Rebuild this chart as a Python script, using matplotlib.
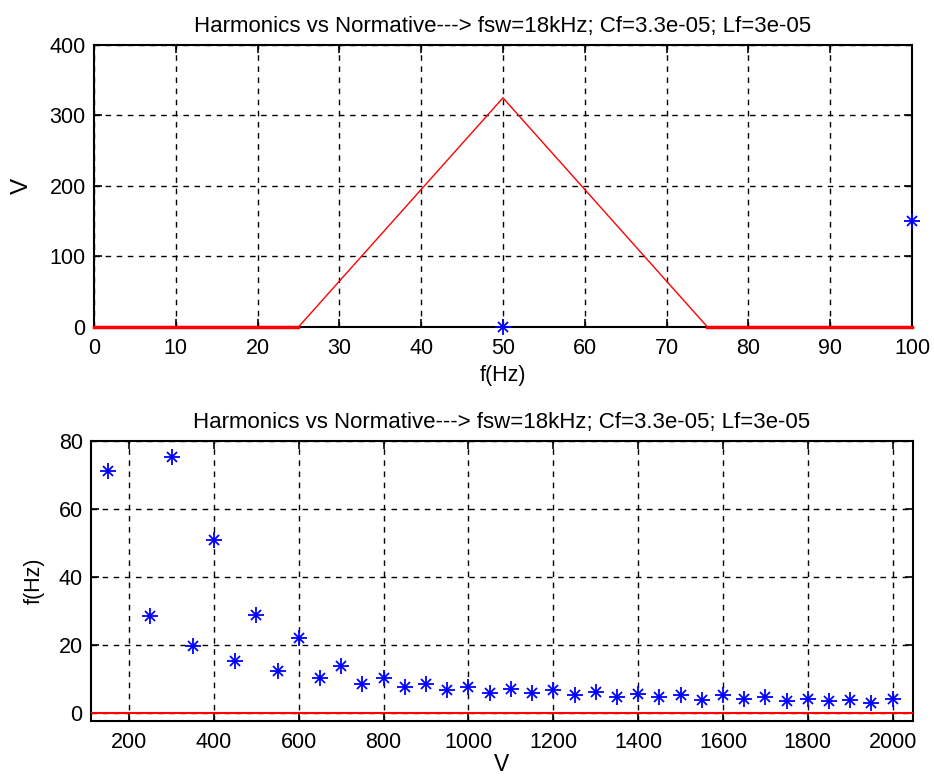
import matplotlib
matplotlib.use('Agg')
import matplotlib.pyplot as plt

plt.rcParams['font.family'] = ['Liberation Sans', 'DejaVu Sans']

title = 'Harmonics vs Normative---> fsw=18kHz; Cf=3.3e-05; Lf=3e-05'

# top: normative limit envelope and measured points
norm_f = [0, 25, 50, 75, 100]
norm_v = [0, 0, 325, 0, 0]
meas_f = [50, 100]
meas_v = [0, 150]

# bottom: harmonic amplitudes against order frequency
harm_v = [150, 250, 300, 350, 400, 450, 500, 550, 600, 650, 700, 750, 800,
          850, 900, 950, 1000, 1050, 1100, 1150, 1200, 1250, 1300, 1350,
          1400, 1450, 1500, 1550, 1600, 1650, 1700, 1750, 1800, 1850, 1900,
          1950, 2000]
harm_f = [71.2, 28.4, 75.3, 19.8, 50.9, 15.2, 28.9, 12.2, 21.9, 10.2, 13.7,
          8.6, 10.3, 7.6, 8.6, 6.6, 7.6, 5.9, 7.0, 5.7, 6.6, 5.1, 6.1, 4.6,
          5.6, 4.6, 5.2, 3.9, 5.1, 4.1, 4.6, 3.4, 4.1, 3.4, 3.9, 2.9, 4.1]
limit_v = [100, 2100]
limit_f = [0, 0]

FS = 15.5
TS = 16


def asterisk(ax, x, y):
    ax.plot(x, y, ls='none', marker='+', ms=11, mew=1.3, color='blue', zorder=4)
    ax.plot(x, y, ls='none', marker='x', ms=7, mew=1.3, color='blue', zorder=4)


def style(ax):
    ax.grid(True, color='black', linestyle=(0, (4, 4)), linewidth=1)
    ax.tick_params(direction='in', top=True, right=True, labelsize=FS,
                   length=6, width=1.2)
    ax.tick_params(axis='x', pad=8)
    ax.tick_params(axis='y', pad=6)
    for s in ax.spines.values():
        s.set_linewidth(1.5)


fig = plt.figure(figsize=(9.34, 7.78), dpi=100)

ax1 = fig.add_axes([0.1006, 0.5797, 0.8758, 0.3625])
ax1.plot(norm_f, norm_v, color='red', lw=1, zorder=3, clip_on=False)
ax1.plot([0, 25], [0, 0], color='red', lw=2.5, zorder=3, clip_on=False)
ax1.plot([75, 100], [0, 0], color='red', lw=2.5, zorder=3, clip_on=False)
asterisk(ax1, meas_f, meas_v)
for line in ax1.lines:
    line.set_clip_on(False)
ax1.set_xlim(0, 100)
ax1.set_ylim(0, 400)
ax1.set_xticks(range(0, 101, 10))
ax1.set_yticks(range(0, 401, 100))
ax1.set_title(title, fontsize=TS, pad=9)
ax1.set_xlabel('f(Hz)', fontsize=FS, labelpad=4)
ax1.set_ylabel('V', fontsize=FS + 2, labelpad=12)
style(ax1)

ax2 = fig.add_axes([0.0974, 0.0733, 0.8801, 0.3599])
ax2.plot(limit_v, limit_f, color='red', lw=1.5, zorder=3)
asterisk(ax2, harm_v, harm_f)
ax2.set_xlim(110, 2048)
ax2.set_ylim(-2.4, 80)
ax2.set_xticks(range(200, 2001, 200))
ax2.set_yticks(range(0, 81, 20))
ax2.set_title(title, fontsize=TS, pad=9)
ax2.set_xlabel('V', fontsize=FS + 1, labelpad=0)
ax2.set_ylabel('f(Hz)', fontsize=FS, labelpad=10)
style(ax2)

fig.savefig('out.png', dpi=100)
